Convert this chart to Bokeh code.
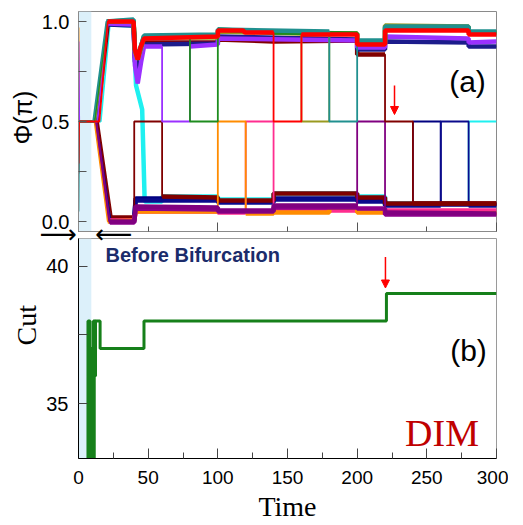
import math
from bokeh.plotting import figure
from bokeh.layouts import column
from bokeh.models import (Range1d, FixedTicker, PrintfTickFormatter, BoxAnnotation,
                          Label, Arrow, NormalHead, Title)
from bokeh.embed import file_html
from bokeh.resources import INLINE

# ---------------- data ----------------
# panel (a): phase traces, Phi in units of pi
red_t = [0, 0.4, 15.0, 21.0, 39.5, 40.5, 42.5, 44.5, 47.0, 100, 100, 118, 119.5, 140, 140, 160, 160, 200, 200, 220, 220, 280, 280, 300]
red_phi = [0.29, 0.5, 0.5, 1.0, 1.0, 0.86, 0.81, 0.87, 0.915, 0.925, 0.955, 0.955, 0.945, 0.945, 0.5, 0.5, 0.935, 0.935, 0.885, 0.885, 0.955, 0.955, 0.935, 0.935]

teal_t = [0, 0.4, 10.5, 20.0, 39.5, 40.5, 42.5, 45, 47, 100, 100, 180, 180, 200, 200, 220, 220, 280, 280, 300]
teal_phi = [0.05, 0.5, 0.5, 1.0, 1.01, 0.86, 0.82, 0.88, 0.93, 0.935, 0.96, 0.95, 0.5, 0.5, 0.905, 0.905, 0.975, 0.975, 0.95, 0.95]

green_t = [0, 11.5, 20.5, 39.5, 40.5, 42.5, 45, 47, 80, 80, 100, 100, 140, 200, 200, 220, 220, 280, 280, 300]
green_phi = [0.5, 0.5, 1.0, 1.005, 0.86, 0.82, 0.88, 0.925, 0.925, 0.5, 0.5, 0.96, 0.945, 0.94, 0.895, 0.895, 0.97, 0.97, 0.945, 0.945]

olive_t = [0, 12, 20.5, 39.5, 40.5, 42.5, 45, 47, 100, 100, 160, 160, 180, 180, 200, 200, 220, 220, 280, 280, 300]
olive_phi = [0.5, 0.5, 1.0, 1.0, 0.85, 0.81, 0.87, 0.92, 0.92, 0.95, 0.94, 0.5, 0.5, 0.94, 0.94, 0.89, 0.89, 0.98, 0.975, 0.945, 0.945]

navy_top_t = [0, 13, 21, 39.5, 40.5, 42.5, 45, 47, 100, 100, 200, 200, 220, 220, 280, 280, 300]
navy_top_phi = [0.5, 0.5, 0.985, 0.98, 0.8, 0.75, 0.84, 0.885, 0.89, 0.925, 0.91, 0.86, 0.86, 0.9, 0.895, 0.875, 0.875]

violet_t = [0, 0.5, 13.5, 21, 39.5, 40.5, 42.5, 45, 47, 60, 60, 80, 80, 100, 100, 200, 200, 220, 220, 280, 280, 300]
violet_phi = [0.9, 0.5, 0.5, 0.99, 0.985, 0.78, 0.69, 0.8, 0.875, 0.875, 0.5, 0.5, 0.875, 0.885, 0.915, 0.905, 0.87, 0.87, 0.925, 0.915, 0.895, 0.9]

maroon_b_t = [0, 0.4, 14, 22, 39.5, 40.5, 42.5, 45, 47, 100, 100, 140, 200, 200, 220, 220, 240, 240, 300]
maroon_b_phi = [0.24, 0.5, 0.5, 0.99, 0.985, 0.82, 0.78, 0.85, 0.895, 0.895, 0.91, 0.9, 0.905, 0.835, 0.835, 0.5, 0.5, 0.09, 0.09]

cyan_t = [0, 16, 22.5, 39.5, 41.3, 43.5, 45.7, 47.5, 60, 60, 100, 100, 140, 140, 200, 200, 220, 220, 280, 280, 300]
cyan_phi = [0.5, 0.5, 0.985, 0.98, 0.68, 0.62, 0.56, 0.1, 0.1, 0.125, 0.125, 0.11, 0.11, 0.14, 0.14, 0.125, 0.125, 0.09, 0.09, 0.5, 0.5]

maroon_a_t = [0, 14, 24, 40, 40, 60, 60, 100, 100, 140, 140, 200, 200, 220, 220, 300]
maroon_a_phi = [0.5, 0.5, 0.02, 0.02, 0.5, 0.5, 0.125, 0.12, 0.105, 0.105, 0.14, 0.14, 0.12, 0.12, 0.09, 0.09]

navy1_t = [0, 13, 23, 40, 41, 100, 100, 140, 140, 200, 200, 220, 220, 240, 240, 260, 260, 300]
navy1_phi = [0.5, 0.5, 0.015, 0.015, 0.115, 0.115, 0.1, 0.1, 0.115, 0.115, 0.105, 0.105, 0.085, 0.085, 0.5, 0.5, 0.085, 0.085]

navy2_t = [0, 13.5, 23, 40, 41, 100, 100, 140, 140, 200, 200, 220, 220, 260, 260, 280, 280, 300]
navy2_phi = [0.5, 0.5, 0.01, 0.01, 0.105, 0.105, 0.095, 0.095, 0.11, 0.11, 0.1, 0.1, 0.08, 0.08, 0.5, 0.5, 0.08, 0.08]

purple_t = [0, 12.5, 22, 40, 41, 100, 100, 140, 140, 200, 200, 220, 220, 300]
purple_phi = [0.5, 0.5, 0.0, 0.0, 0.075, 0.07, 0.055, 0.055, 0.08, 0.08, 0.5, 0.5, 0.045, 0.04]

magenta_t = [0, 12.8, 22.5, 40, 41, 100, 100, 140, 140, 200, 200, 220, 220, 300]
magenta_phi = [0.5, 0.5, -0.005, -0.005, 0.065, 0.06, 0.05, 0.05, 0.07, 0.07, 0.065, 0.065, 0.035, 0.035]

orange_t = [0, 0.4, 11.5, 21, 40, 41, 100, 100, 120, 120, 140, 140, 180, 180, 200, 200, 220, 220, 300]
orange_phi = [0.97, 0.5, 0.5, 0.0, 0.005, 0.05, 0.05, 0.5, 0.5, 0.04, 0.04, 0.045, 0.045, 0.07, 0.07, 0.045, 0.045, 0.04, 0.04]

pink_t = [0, 12, 21.5, 40, 41, 100, 100, 120, 120, 140, 140, 200, 200, 220, 220, 300]
pink_phi = [0.5, 0.5, 0.005, 0.005, 0.05, 0.05, 0.045, 0.045, 0.5, 0.5, 0.055, 0.055, 0.06, 0.06, 0.055, 0.055]

# panel (b): cut value (step trace)
cut_t = [6.8, 6.8, 8.3, 8.6, 8.9, 9.2, 9.5, 9.8, 10.1, 10.4, 10.7, 11.0, 11.3, 11.9, 12.2, 15.5, 47.0, 221.0, 300.0]
cut_val = [33, 38, 37, 33, 37, 33, 37, 33, 37, 33, 38, 33, 38, 36, 38, 37, 38, 39, 39]

# axes ticks
x_major_a = [0, 100, 200, 300]
x_minor_a = [50, 150, 250]
x_major_b = [0, 50, 100, 150, 200, 250, 300]
x_minor_b = [25, 75, 125, 175, 225, 275]
phi_major = [0.0, 0.5, 1.0]
phi_minor = [0.25, 0.75]
cut_major = [35, 40]
cut_minor = [37.5]

before_bif_end = 9.2      # end of the "before bifurcation" shaded window
marker_a_t = 226.8        # red arrow positions
marker_b_t = 220.3

traces = [
    (cyan_t, cyan_phi, "#1ff0f0"),
    (navy1_t, navy1_phi, "#000080"),
    (navy2_t, navy2_phi, "#0a0a8c"),
    (maroon_a_t, maroon_a_phi, "#800000"),
    (pink_t, pink_phi, "#ff2d8f"),
    (orange_t, orange_phi, "#ff8c00"),
    (magenta_t, magenta_phi, "#8b008b"),
    (purple_t, purple_phi, "#800080"),
    (maroon_b_t, maroon_b_phi, "#800000"),
    (navy_top_t, navy_top_phi, "#1c1c8c"),
    (violet_t, violet_phi, "#9b30ff"),
    (olive_t, olive_phi, "#9a9a20"),
    (green_t, green_phi, "#1e8c1e"),
    (teal_t, teal_phi, "#20908f"),
    (red_t, red_phi, "#ff0000"),
]

SANS = "Liberation Sans"
SERIF = "Liberation Serif"
BAND = "#dcf0fa"

# ---------------- panel (a) ----------------
p1 = figure(frame_width=418, frame_height=220, x_range=Range1d(0, 300),
            y_range=Range1d(-0.05, 1.05), output_backend="svg", toolbar_location=None,
            min_border_left=78, min_border_right=12, min_border_top=11, min_border_bottom=8)
p1.border_fill_alpha = 0
p1.xgrid.visible = False
p1.ygrid.visible = False
p1.outline_line_color = "#8a8a8a"
p1.add_layout(BoxAnnotation(left=0, right=before_bif_end, fill_color=BAND, fill_alpha=1.0,
                            line_alpha=0, level="underlay"))

for t, ph, col in traces:
    p1.line(t, ph, line_color=col, line_width=1.8)
    band = [v if abs(v - 0.5) > 0.045 else float("nan") for v in ph]
    p1.line(t, band, line_color=col, line_width=4.5)

p1.xaxis.ticker = FixedTicker(ticks=x_major_a, minor_ticks=x_minor_a)
p1.xaxis.major_label_overrides = {k: "" for k in x_major_a}
p1.xaxis.major_label_text_font_size = "0px"
p1.xaxis.major_label_standoff = 0
p1.xaxis.major_tick_in = 9
p1.xaxis.major_tick_out = 0
p1.xaxis.minor_tick_in = 5
p1.xaxis.minor_tick_out = 0
p1.xaxis.axis_line_color = "#8a8a8a"
p1.xaxis.major_tick_line_color = "#555555"
p1.xaxis.minor_tick_line_color = "#555555"

p1.yaxis.ticker = FixedTicker(ticks=phi_major, minor_ticks=phi_minor)
p1.yaxis.formatter = PrintfTickFormatter(format="%.1f")
p1.yaxis.major_tick_in = 8
p1.yaxis.major_tick_out = 0
p1.yaxis.minor_tick_in = 8
p1.yaxis.minor_tick_out = 0
p1.yaxis.axis_line_color = "#8a8a8a"
p1.yaxis.major_tick_line_color = "#555555"
p1.yaxis.minor_tick_line_color = "#555555"
p1.yaxis.major_label_text_font = SANS
p1.yaxis.major_label_text_font_size = "20px"
p1.yaxis.major_label_text_color = "black"
p1.yaxis.major_label_standoff = 9

# y-axis title of panel (a), in the left side panel
p1.add_layout(Title(text="Φ(π)", align="left", offset=87, standoff=0, vertical_align="top",
                    text_font=SANS, text_font_size="25px", text_font_style="normal",
                    text_color="black"), "left")
p1.add_layout(Label(x=279.2, y=0.70, text="(a)", text_font=SANS, text_font_size="30px",
                    text_align="center", text_baseline="middle", text_color="black"))
p1.add_layout(Arrow(end=NormalHead(size=8, fill_color="red", line_color="red"),
                    x_start=marker_a_t, y_start=0.68, x_end=marker_a_t, y_end=0.535,
                    line_color="red", line_width=1.5))

# ---------------- panel (b) ----------------
p2 = figure(frame_width=418, frame_height=220, x_range=p1.x_range, y_range=Range1d(33, 41),
            output_backend="svg", toolbar_location=None, margin=(-31, 0, 0, 0),
            styles={"background": "none"},
            min_border_left=78, min_border_right=12, min_border_top=30, min_border_bottom=0)
p2.border_fill_alpha = 0
p2.background_fill_alpha = 0
p2.xgrid.visible = False
p2.ygrid.visible = False
p2.outline_line_color = "#9a9a9a"
p2.add_layout(BoxAnnotation(left=0, right=before_bif_end, fill_color=BAND, fill_alpha=1.0,
                            line_alpha=0, level="underlay"))
p2.step(cut_t, cut_val, mode="after", line_color="#16801a", line_width=3)

p2.xaxis.ticker = FixedTicker(ticks=x_major_b, minor_ticks=x_minor_b)
p2.xaxis.major_tick_in = 10
p2.xaxis.major_tick_out = 0
p2.xaxis.minor_tick_in = 6
p2.xaxis.minor_tick_out = 0
p2.xaxis.axis_line_color = "black"
p2.xaxis.major_tick_line_color = "#444444"
p2.xaxis.minor_tick_line_color = "#444444"
p2.xaxis.major_label_text_font = SANS
p2.xaxis.major_label_text_font_size = "19px"
p2.xaxis.major_label_text_color = "black"
p2.xaxis.major_label_standoff = 12
p2.xaxis.axis_label = "Time"
p2.xaxis.axis_label_text_font = SERIF
p2.xaxis.axis_label_text_font_size = "28px"
p2.xaxis.axis_label_text_font_style = "normal"
p2.xaxis.axis_label_text_color = "black"
p2.xaxis.axis_label_standoff = 4

p2.yaxis.ticker = FixedTicker(ticks=cut_major, minor_ticks=cut_minor)
p2.yaxis.major_tick_in = 9
p2.yaxis.major_tick_out = 0
p2.yaxis.minor_tick_in = 9
p2.yaxis.minor_tick_out = 0
p2.yaxis.axis_line_color = "black"
p2.yaxis.major_tick_line_color = "#444444"
p2.yaxis.minor_tick_line_color = "#444444"
p2.yaxis.major_label_text_font = SANS
p2.yaxis.major_label_text_font_size = "20px"
p2.yaxis.major_label_text_color = "black"
p2.yaxis.major_label_standoff = 10

p2.add_layout(Title(text="Cut", align="left", offset=113, standoff=0, vertical_align="top",
                    text_font=SERIF, text_font_size="28px", text_font_style="normal",
                    text_color="black"), "left")
# arrows marking the pre-bifurcation window (between the panels)
p2.add_layout(Title(text="⟶\u2002\u2009⟵", align="left", offset=-39, standoff=-21,
                    vertical_align="bottom", text_font="DejaVu Sans", text_font_size="26px",
                    text_font_style="normal", text_color="black"), "above")
p2.add_layout(Label(x=19.4, y=40.4, text="Before Bifurcation", text_font=SANS,
                    text_font_size="20px", text_font_style="bold", text_color="#1b2c6b",
                    text_baseline="middle"))
p2.add_layout(Label(x=279.9, y=36.92, text="(b)", text_font=SANS, text_font_size="30px",
                    text_align="center", text_baseline="middle", text_color="black"))
p2.add_layout(Label(x=260.9, y=33.93, text="DIM", text_font=SERIF, text_font_size="38px",
                    text_align="center", text_baseline="middle", text_color="#c00000"))
p2.add_layout(Arrow(end=NormalHead(size=8, fill_color="red", line_color="red"),
                    x_start=marker_b_t, y_start=40.33, x_end=marker_b_t, y_end=39.2,
                    line_color="red", line_width=1.5))

layout = column(p1, p2, spacing=0)
open("out.html", "w").write(file_html(layout, INLINE))
